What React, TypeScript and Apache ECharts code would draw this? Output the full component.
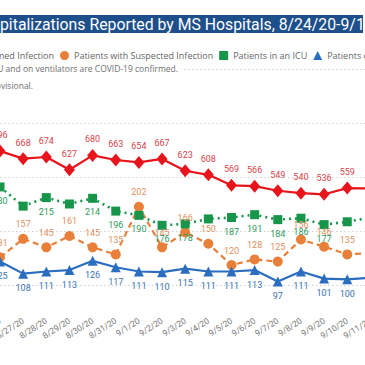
import React, { useEffect, useRef } from 'react';
import * as echarts from 'echarts';

const dates = ['8/26/20', '8/27/20', '8/28/20', '8/29/20', '8/30/20', '8/31/20', '9/1/20', '9/2/20', '9/3/20', '9/4/20', '9/5/20', '9/6/20', '9/7/20', '9/8/20', '9/9/20', '9/10/20', '9/11/20'];
const confirmed = [696, 668, 674, 627, 680, 663, 654, 667, 623, 608, 569, 566, 549, 540, 536, 559, 558];
const suspected = [131, 157, 145, 161, 145, 135, 202, 145, 166, 150, 120, 128, 125, 156, 146, 135, 137];
const icu = [230, 203, 215, 206, 214, 196, 190, 176, 178, 185, 187, 191, 184, 186, 177, 181, 187];
const ventilators = [125, 108, 111, 113, 126, 117, 111, 110, 115, 111, 111, 113, 97, 111, 101, 100, 102];

const seriesNames = [
  'Patients with Confirmed Infection',
  'Patients with Suspected Infection',
  'Patients in an ICU',
  'Patients on Ventilators',
];
const hiddenIcuLabels = ['8/27/20', '8/29/20', '9/4/20', '9/10/20'];
const unlabeledDates = ['9/11/20'];

const titleText = 'COVID-19 Hospitalizations Reported by MS Hospitals, 8/24/20-9/13/20';
const noteText = 'Note: Patients in an ICU and on ventilators are COVID-19 confirmed.';
const provisionalText = 'Data for the most recent dates are provisional.';

const OX = 200; // page-x to chart-x offset
const CW = 900; // chart div width

export default function App() {
  const ref = useRef<HTMLDivElement>(null);
  useEffect(() => {
    const el = ref.current!;
    const chart = echarts.init(el, null, { renderer: 'svg' });
    const ctx = document.createElement('canvas').getContext('2d')!;
    const measure = (t: string, font: string) => {
      ctx.font = font;
      return ctx.measureText(t).width;
    };
    const uiFont = 'Open Sans';
    const titleFont = 'Roboto';
    const legendSize = 9;
    const titleSize = 15.8;
    const iconW = 9;
    const legendGap = 6;
    const w1 = measure(seriesNames[0], `${legendSize}px "${uiFont}"`);
    const legendLeft = OX + 55 - legendGap - w1 - 5 - iconW;
    const titleLeft = OX - measure('COVID-19 Hos', `${titleSize}px "${titleFont}"`);

    const labelFont = { fontFamily: 'Roboto', fontSize: 9 };
    const mk = (vals: number[], hidden: string[]) =>
      vals.map((v, i) => ({
        value: v,
        label: { show: !hidden.includes(dates[i]) && !unlabeledDates.includes(dates[i]) },
      }));

    const option: any = {
      animation: false,
      backgroundColor: '#ffffff',
      grid: { left: OX, right: CW - OX - 370.4, top: 69, bottom: 365 - 339 },
      legend: {
        left: legendLeft,
        top: 46,
        width: 2000,
        itemWidth: iconW,
        itemHeight: iconW,
        itemGap: legendGap,
        textStyle: { fontFamily: uiFont, fontSize: legendSize, color: '#666666' },
        data: [
          { name: seriesNames[0], icon: 'diamond' },
          { name: seriesNames[1], icon: 'circle' },
          { name: seriesNames[2], icon: 'rect' },
          { name: seriesNames[3], icon: 'triangle' },
        ],
      },
      xAxis: {
        type: 'category',
        data: dates,
        boundaryGap: false,
        offset: -22,
        axisLine: { show: false },
        axisTick: { show: false },
        axisLabel: {
          rotate: 32,
          margin: 3,
          fontFamily: 'Roboto',
          fontSize: 8.5,
          color: '#777777',
          interval: 0,
        },
      },
      yAxis: [
        { type: 'value', min: 16, max: 396, show: false },
        {
          type: 'value',
          min: 0,
          max: 1000,
          interval: 200,
          axisLabel: { show: false },
          axisLine: { show: false },
          axisTick: { show: false },
          splitLine: {
            show: true,
            showMinLine: false,
            lineStyle: { type: [1.5, 2.5], color: '#cfcfcf', width: 1 },
          },
        },
      ],
      series: [
        {
          name: seriesNames[0],
          type: 'line',
          yAxisIndex: 1,
          data: mk(confirmed, []),
          symbol: 'diamond',
          symbolSize: [11, 13],
          itemStyle: { color: '#E8141C' },
          lineStyle: { color: '#E8141C', width: 2.2 },
          label: { show: true, position: 'top', color: '#D9434B', ...labelFont },
        },
        {
          name: seriesNames[1],
          type: 'line',
          yAxisIndex: 0,
          data: mk(suspected, []),
          symbol: 'circle',
          symbolSize: 10,
          itemStyle: { color: '#E8803A' },
          lineStyle: { color: '#E8803A', width: 2.2, type: [6, 4] },
          label: { show: true, position: 'top', color: '#E0905F', ...labelFont },
        },
        {
          name: seriesNames[2],
          type: 'line',
          yAxisIndex: 0,
          data: mk(icu, hiddenIcuLabels),
          symbol: 'rect',
          symbolSize: 9,
          itemStyle: { color: '#17954A' },
          lineStyle: { color: '#17954A', width: 2.6, type: [2, 4] },
          label: { show: true, position: 'bottom', color: '#2E9A5C', ...labelFont },
        },
        {
          name: seriesNames[3],
          type: 'line',
          yAxisIndex: 0,
          data: mk(ventilators, []),
          symbol: 'triangle',
          symbolSize: 10,
          itemStyle: { color: '#2B6DBF' },
          lineStyle: { color: '#2B6DBF', width: 2.2 },
          label: { show: true, position: 'bottom', color: '#3A72B5', ...labelFont },
        },
      ],
      graphic: [
        {
          type: 'rect',
          z: 100,
          shape: { x: 0, y: 15, width: OX + 363, height: 18 },
          style: { fill: '#1D4F8B' },
        },
        {
          type: 'text',
          z: 101,
          x: titleLeft,
          y: 24,
          style: {
            text: titleText,
            fill: '#ffffff',
            font: `${titleSize}px "${titleFont}"`,
            verticalAlign: 'middle',
          },
        },
        {
          type: 'text',
          z: 101,
          x: OX + 183,
          y: 68,
          style: {
            text: noteText,
            fill: '#707070',
            font: `8.5px "${uiFont}"`,
            align: 'right',
            verticalAlign: 'middle',
            backgroundColor: '#ffffff',
            padding: [1, 5, 1, 0],
          },
        },
        {
          type: 'text',
          z: 101,
          x: OX + 33,
          y: 85,
          style: {
            text: provisionalText,
            fill: '#707070',
            font: `8.5px "${uiFont}"`,
            align: 'right',
            verticalAlign: 'middle',
          },
        },
      ],
    };
    chart.setOption(option);
    return () => chart.dispose();
  }, []);
  return (
    <div style={{ position: 'fixed', left: 0, top: 0, width: 365, height: 365, overflow: 'hidden', background: '#fff' }}>
      <div ref={ref} style={{ position: 'absolute', left: -OX, top: 0, width: CW, height: 365 }} />
    </div>
  );
}
